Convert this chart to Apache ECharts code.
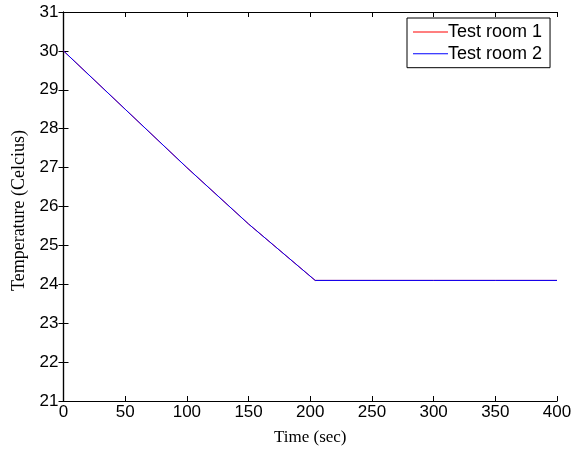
<!DOCTYPE html>
<html><head><meta charset="utf-8">
<script src="https://cdn.jsdelivr.net/npm/echarts@6/dist/echarts.min.js"></script>
<style>html,body{margin:0;padding:0;background:#fff}#c{width:579px;height:451px}</style>
</head><body><div id="c"></div>
<script>
const timeSec = [0, 50, 100, 150, 204, 250, 300, 350, 400];
const room1 = [30.0, 28.5, 27.0, 25.55, 24.1, 24.1, 24.1, 24.1, 24.1];
const room2 = [30.0, 28.5, 27.0, 25.55, 24.1, 24.1, 24.1, 24.1, 24.1];
const seriesNames = ['Test room 1', 'Test room 2'];
const seriesColors = ['#ff0000', '#0000ff'];
const xLabel = 'Time (sec)';
const yLabel = 'Temperature (Celcius)';

const chart = echarts.init(document.getElementById('c'), null, {renderer: 'canvas'});
const axisFont = {fontFamily: 'Liberation Sans, Arial', fontSize: 17, color: '#000'};
const tickStyle = {show: true, inside: true, length: 5, lineStyle: {color: '#000', width: 1}};
const lineStyle = {color: '#000', width: 1.2};
chart.setOption({
  animation: false,
  grid: {left: 63.5, right: 22, top: 12, bottom: 49, containLabel: false},
  legend: {
    orient: 'vertical', left: 407, top: 18,
    data: seriesNames.map((n, i) => ({name: n, icon: 'rect', itemStyle: {color: seriesColors[i]}})),
    itemWidth: 35, itemHeight: 1, itemGap: 3.7,
    padding: [5, 8, 5, 6],
    borderColor: '#000', borderWidth: 1, backgroundColor: '#fff',
    textStyle: {fontFamily: 'Liberation Sans, Arial', fontSize: 18, lineHeight: 18, color: '#000', padding: [0,0,0,-5]}
  },
  xAxis: [
    {type: 'value', min: 0, max: 400, interval: 50, position: 'bottom',
     name: xLabel, nameLocation: 'middle', nameGap: 28,
     nameTextStyle: {fontFamily: 'Liberation Serif, Times New Roman', fontSize: 17, color: '#000'},
     axisLine: {show: true, lineStyle: lineStyle}, axisTick: tickStyle,
     axisLabel: Object.assign({margin: 3}, axisFont), splitLine: {show: false}},
    {type: 'value', min: 0, max: 400, interval: 50, position: 'top',
     axisLine: {show: true, lineStyle: lineStyle}, axisTick: tickStyle,
     axisLabel: {show: false}, splitLine: {show: false}}
  ],
  yAxis: [
    {type: 'value', min: 21, max: 31, interval: 1, position: 'left',
     name: yLabel, nameLocation: 'middle', nameGap: 33, nameRotate: 90,
     nameTextStyle: {fontFamily: 'Liberation Serif, Times New Roman', fontSize: 18, color: '#000', padding: [0, 8, 0, 0]},
     axisLine: {show: true, lineStyle: lineStyle}, axisTick: tickStyle,
     axisLabel: Object.assign({margin: 5}, axisFont), splitLine: {show: false}},
    {type: 'value', min: 21, max: 31, interval: 1, position: 'right',
     axisLine: {show: true, lineStyle: lineStyle}, axisTick: tickStyle,
     axisLabel: {show: false}, splitLine: {show: false}}
  ],
  series: [
    {name: seriesNames[0], type: 'line', symbol: 'none', data: timeSec.map((t, i) => [t, room1[i]]),
     lineStyle: {color: seriesColors[0], width: 1}, itemStyle: {color: seriesColors[0]}},
    {name: seriesNames[1], type: 'line', symbol: 'none', data: timeSec.map((t, i) => [t, room2[i]]),
     lineStyle: {color: seriesColors[1], width: 1}, itemStyle: {color: seriesColors[1]}}
  ]
});
</script></body></html>
